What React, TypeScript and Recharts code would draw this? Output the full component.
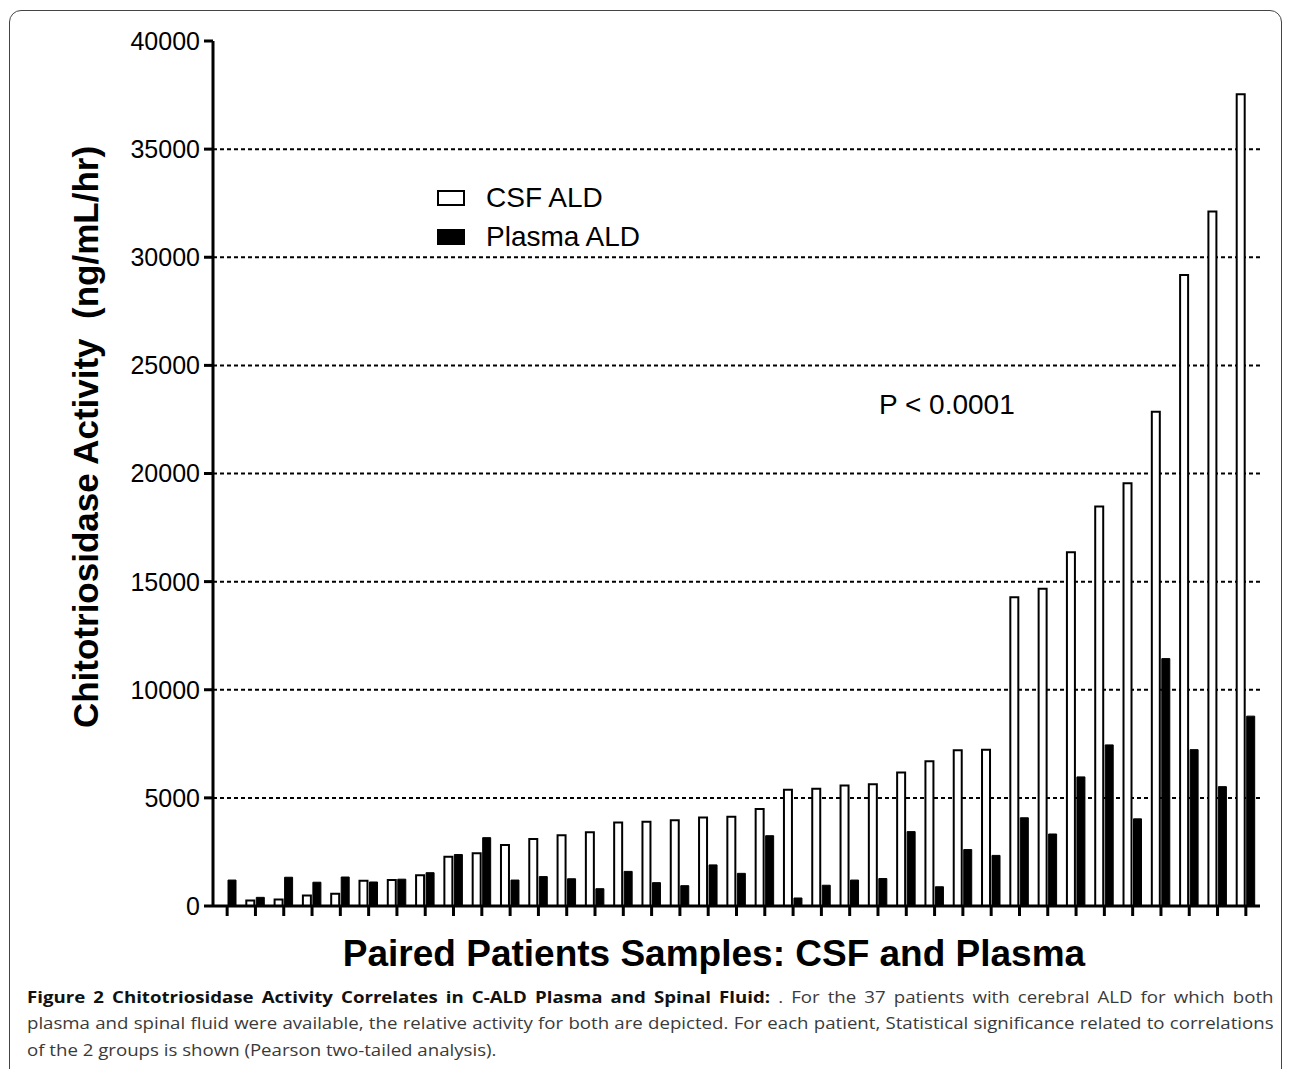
import * as React from "react";
import { BarChart, Bar, XAxis, YAxis, ReferenceLine, Legend } from "recharts";

// ── Data ────────────────────────────────────────────────────────────────────

const patients = [
  "1", "2", "3", "4", "5", "6", "7", "8", "9", "10",
  "11", "12", "13", "14", "15", "16", "17", "18", "19", "20",
  "21", "22", "23", "24", "25", "26", "27", "28", "29", "30",
  "31", "32", "33", "34", "35", "36", "37",
];

const csfALD = [
  0, 250, 300, 480, 570, 1170, 1200, 1420, 2280, 2440,
  2820, 3100, 3270, 3410, 3860, 3900, 3960, 4090, 4130, 4490,
  5370, 5420, 5570, 5630, 6170, 6690, 7200, 7230, 14280, 14670,
  16360, 18470, 19550, 22860, 29180, 32110, 37540,
];

const plasmaALD = [
  1200, 400, 1330, 1100, 1340, 1110, 1240, 1540, 2380, 3160,
  1200, 1360, 1260, 800, 1600, 1080, 940, 1900, 1510, 3250,
  370, 960, 1200, 1270, 3440, 890, 2610, 2340, 4080, 3330,
  5970, 7450, 4030, 11440, 7230, 5520, 8780,
];

const yTicks = [0, 5000, 10000, 15000, 20000, 25000, 30000, 35000, 40000];
const gridValues = [5000, 10000, 15000, 20000, 25000, 30000, 35000];

const data = patients.map((p, i) => ({ patient: p, csf: csfALD[i], plasma: plasmaALD[i] }));

const FONT = "'Liberation Sans', Arial, sans-serif";

// ── Labels ──────────────────────────────────────────────────────────────────

function YTitle() {
  return (
    <text
      x={98}
      y={437}
      transform="rotate(-90 98 437)"
      textAnchor="middle"
      style={{ fontSize: 35, fontWeight: 700, fontFamily: FONT, whiteSpace: "pre" }}
      fill="#000"
    >
      {"Chitotriosidase Activity  (ng/mL/hr)"}
    </text>
  );
}

function XTitle() {
  return (
    <text
      x={714}
      y={966}
      textAnchor="middle"
      style={{ fontSize: 37, fontWeight: 700, fontFamily: FONT }}
      fill="#000"
    >
      Paired Patients Samples: CSF and Plasma
    </text>
  );
}

function LegendBox({ payload }: any) {
  return (
    <div style={{ fontFamily: FONT }}>
      {(payload || []).map((entry: any) => {
        const filled = entry.value === "Plasma ALD";
        return (
          <div key={entry.value} style={{ display: "flex", alignItems: "center", height: 39 }}>
            <svg width={28} height={16} style={{ marginRight: 21 }}>
              <rect x={1} y={1} width={26} height={14} fill={filled ? "#000" : "#fff"} stroke="#000" strokeWidth={2} />
            </svg>
            <span style={{ fontSize: 28, color: "#000", lineHeight: "39px" }}>{entry.value}</span>
          </div>
        );
      })}
    </div>
  );
}

const captionLine = { textAlign: "justify", textAlignLast: "justify", whiteSpace: "normal" } as any;

// ── Chart ───────────────────────────────────────────────────────────────────

export default function App() {
  return (
    <div
      style={{
        position: "absolute",
        left: 0,
        top: 0,
        width: 1290,
        height: 1069,
        overflow: "hidden",
        background: "#fff",
        fontFamily: FONT,
      }}
    >
      <div
        style={{
          position: "absolute",
          left: 9,
          top: 10,
          width: 1273,
          height: 1120,
          border: "1.5px solid #444",
          borderRadius: 12,
          boxSizing: "border-box",
        }}
      />
      <div style={{ position: "absolute", left: 0, top: 0 }}>
        <BarChart
          width={1290}
          height={1069}
          data={data}
          barGap={2}
          margin={{ top: 41, right: 30, bottom: 143, left: 113 }}
        >
          {gridValues.map((v) => (
            <ReferenceLine
              key={v}
              y={v}
              stroke="#000"
              strokeWidth={2}
              strokeDasharray="4 3"
              zIndex={-50}
            />
          ))}
          <XAxis
            dataKey="patient"
            height={20}
            interval={0}
            tickSize={10}
            tickFormatter={() => ""}
            axisLine={{ stroke: "#000", strokeWidth: 3 }}
            tickLine={{ stroke: "#000", strokeWidth: 3 }}
            label={XTitle}
          />
          <YAxis
            width={100}
            domain={[0, 40000]}
            ticks={yTicks}
            interval={0}
            tickSize={9}
            tickMargin={4}
            tick={{ fontSize: 25, fill: "#000", fontFamily: FONT }}
            axisLine={{ stroke: "#000", strokeWidth: 3 }}
            tickLine={{ stroke: "#000", strokeWidth: 3 }}
            label={YTitle}
          />
          <Legend
            layout="vertical"
            align="center"
            verticalAlign="middle"
            content={LegendBox}
            wrapperStyle={{ position: "absolute", left: 437, top: 178, width: "auto", height: "auto" }}
          />
          <Bar
            dataKey="csf"
            name="CSF ALD"
            fill="#fff"
            stroke="#000"
            strokeWidth={2}
            barSize={8}
            isAnimationActive={false}
          />
          <Bar
            dataKey="plasma"
            name="Plasma ALD"
            fill="#000"
            stroke="#000"
            strokeWidth={1}
            barSize={8}
            isAnimationActive={false}
          />
        </BarChart>
      </div>
      <div
        style={{
          position: "absolute",
          left: 879,
          top: 391,
          fontSize: 28,
          lineHeight: "28px",
          color: "#000",
          whiteSpace: "nowrap",
        }}
      >
        {"P < 0.0001"}
      </div>
      <div
        style={{
          position: "absolute",
          left: 27,
          top: 984,
          width: 1070,
          transform: "scaleX(1.165)",
          transformOrigin: "0 0",
          fontFamily: "'Open Sans', sans-serif",
          fontSize: 16,
          lineHeight: "26.3px",
          color: "#3a3a3a",
        }}
      >
        <div style={captionLine}>
          <b style={{ color: "#111" }}>
            Figure 2 Chitotriosidase Activity Correlates in C-ALD Plasma and Spinal Fluid:
          </b>{" "}
          . For the 37 patients with cerebral ALD for which both
        </div>
        <div style={captionLine}>
          plasma and spinal fluid were available, the relative activity for both are depicted. For each patient,
          Statistical significance related to correlations
        </div>
        <div style={{ whiteSpace: "nowrap" }}>of the 2 groups is shown (Pearson two-tailed analysis).</div>
      </div>
    </div>
  );
}
